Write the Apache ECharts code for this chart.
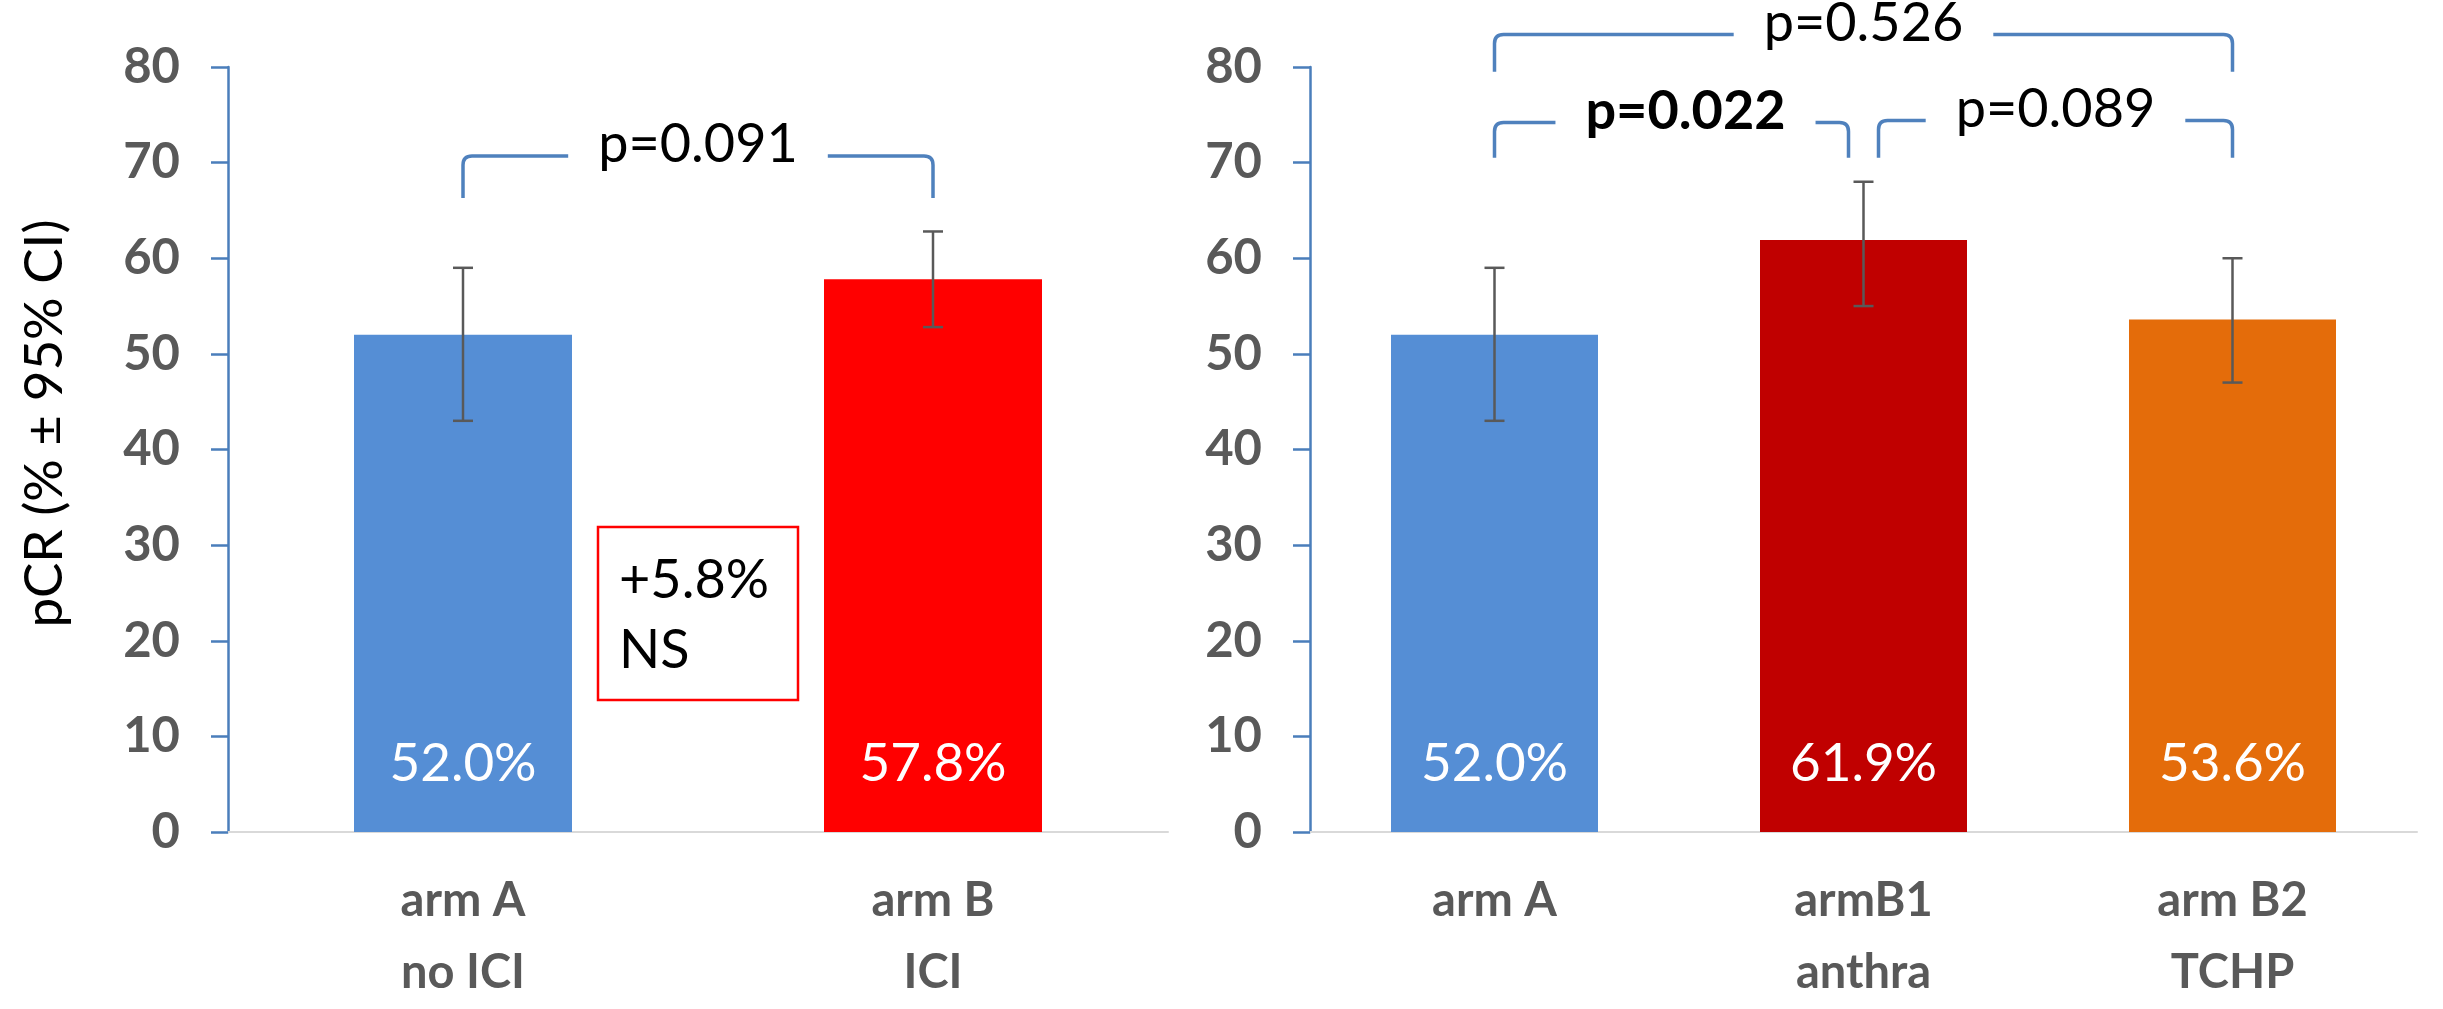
<!DOCTYPE html>
<html><head><meta charset="utf-8">
<script src="https://cdn.jsdelivr.net/npm/echarts@6/dist/echarts.min.js"></script>
<style>html,body{margin:0;padding:0;background:#fff;}#c{width:2443px;height:1009px;}</style>
</head><body><div id="c"></div>
<script>
// ---------- data ----------
const yTickValues = [0, 10, 20, 30, 40, 50, 60, 70, 80];
const yTitle = 'pCR (% ± 95% CI)';

const leftCategories = ['arm A\nno ICI', 'arm B\nICI'];
const leftValues = [52.0, 57.8];
const leftLow = [43.0, 52.8];
const leftHigh = [59.0, 62.8];

const rightCategories = ['arm A', 'armB1\nanthra', 'arm B2\nTCHP'];
const rightValues = [52.0, 61.9, 53.6];
const rightLow = [43.0, 55.0, 47.0];
const rightHigh = [59.0, 68.0, 60.0];

// brackets: [fromCategory, toCategory, topValue, bottomValue]
const leftBrackets = [[0, 1, 70.7, 66.3]];
const leftBracketLabels = ['p=0.091'];
const leftBracketBold = [false];
const rightBrackets = [[0, 2, 83.4, 79.5], [0, 1, 74.2, 70.5], [1, 2, 74.4, 70.5]];
const rightBracketLabels = ['p=0.526', 'p=0.022', 'p=0.089'];
const rightBracketBold = [false, true, false];

const diffLines = ['+5.8%', 'NS'];
const diffBoxRange = [31.9, 13.8]; // value range of the annotation box

// ---------- styles ----------
const FONT = 'Lato';
const leftColors = ['#558ED5', '#FF0000'];
const rightColors = ['#558ED5', '#C00000', '#E46C0A'];
const axisBlue = '#4A7EBB';
const bracketBlue = '#4F81BD';
const grey = '#595959';

function errorSeries(gridIdx, low, high) {
  return {
    type: 'custom', xAxisIndex: gridIdx, yAxisIndex: gridIdx, z: 5,
    data: low.map((l, i) => [i, l, high[i]]),
    encode: { x: 0, y: [1, 2] },
    renderItem: function (params, api) {
      const x = api.value(0);
      const pLo = api.coord([x, api.value(1)]);
      const pHi = api.coord([x, api.value(2)]);
      const hw = 10;
      const st = { stroke: grey, lineWidth: 2.5 };
      return {
        type: 'group', children: [
          { type: 'line', shape: { x1: pLo[0], y1: pLo[1], x2: pHi[0], y2: pHi[1] }, style: st },
          { type: 'line', shape: { x1: pLo[0] - hw, y1: pLo[1], x2: pLo[0] + hw, y2: pLo[1] }, style: st },
          { type: 'line', shape: { x1: pHi[0] - hw, y1: pHi[1], x2: pHi[0] + hw, y2: pHi[1] }, style: st }
        ]
      };
    }
  };
}

function bracketSeries(gridIdx, brackets, labels, bold, nCat) {
  return {
    type: 'custom', xAxisIndex: gridIdx, yAxisIndex: gridIdx, z: 6, clip: false,
    data: brackets,
    encode: { x: [0, 1], y: [2, 3] },
    renderItem: function (params, api) {
      const a = api.value(0), b = api.value(1), top = api.value(2), bot = api.value(3);
      const pA = api.coord([a, top]), pB = api.coord([b, top]), pBot = api.coord([a, bot]);
      const inner = 15;
      const x1 = pA[0] + ((a > 0 && a < nCat - 1) ? inner : 0);
      const x2 = pB[0] - ((b > 0 && b < nCat - 1) ? inner : 0);
      const yt = pA[1], yb = pBot[1], r = 9;
      const path = 'M' + x1 + ' ' + yb + ' L' + x1 + ' ' + (yt + r) + ' Q' + x1 + ' ' + yt + ' ' + (x1 + r) + ' ' + yt +
        ' L' + (x2 - r) + ' ' + yt + ' Q' + x2 + ' ' + yt + ' ' + x2 + ' ' + (yt + r) + ' L' + x2 + ' ' + yb;
      const i = params.dataIndex;
      return {
        type: 'group', children: [
          { type: 'path', shape: { pathData: path }, style: { stroke: bracketBlue, lineWidth: 3.5, fill: 'none' } },
          {
            type: 'text', x: (x1 + x2) / 2 + (bold[i] ? 14 : 0), y: yt - 11,
            style: {
              text: labels[i], fill: '#000', fontFamily: FONT, fontSize: 54,
              fontWeight: bold[i] ? 'bold' : 'normal', align: 'center', verticalAlign: 'middle',
              backgroundColor: '#fff', padding: [0, 30]
            }
          }
        ]
      };
    }
  };
}

function barSeries(gridIdx, values, colors, width) {
  return {
    type: 'bar', xAxisIndex: gridIdx, yAxisIndex: gridIdx, barWidth: width, z: 2,
    data: values.map((v, i) => ({ value: v, itemStyle: { color: colors[i] } })),
    label: {
      show: true, position: 'insideBottom', distance: 42, color: '#fff',
      fontFamily: FONT, fontSize: 53, formatter: p => p.value.toFixed(1) + '%'
    }
  };
}

function xAxis(gridIdx, cats) {
  return {
    type: 'category', gridIndex: gridIdx, data: cats,
    axisLine: { lineStyle: { color: '#D9D9D9', width: 2 } },
    axisTick: { show: false },
    axisLabel: { interval: 0, fontFamily: FONT, fontWeight: 'bold', fontSize: 47, color: grey, lineHeight: 72, margin: 33 }
  };
}
function yAxis(gridIdx) {
  return {
    type: 'value', gridIndex: gridIdx,
    min: yTickValues[0], max: yTickValues[yTickValues.length - 1], interval: yTickValues[1] - yTickValues[0],
    axisLine: { show: true, lineStyle: { color: axisBlue, width: 2.5 } },
    axisTick: { show: true, length: 17, lineStyle: { color: axisBlue, width: 2.5 } },
    splitLine: { show: false },
    axisLabel: { fontFamily: FONT, fontWeight: 'bold', fontSize: 49, color: grey, margin: 48 }
  };
}

const chart = echarts.init(document.getElementById('c'));
chart.setOption({
  animation: false,
  backgroundColor: '#fff',
  grid: [
    { left: 228, top: 67, width: 940, height: 776 },
    { left: 1310, top: 67, width: 1107, height: 776 }
  ],
  xAxis: [xAxis(0, leftCategories), xAxis(1, rightCategories)],
  yAxis: [yAxis(0), yAxis(1)],
  series: [
    barSeries(0, leftValues, leftColors, 218),
    barSeries(1, rightValues, rightColors, 207),
    errorSeries(0, leftLow, leftHigh),
    errorSeries(1, rightLow, rightHigh),
    bracketSeries(0, leftBrackets, leftBracketLabels, leftBracketBold, leftCategories.length),
    bracketSeries(1, rightBrackets, rightBracketLabels, rightBracketBold, rightCategories.length)
  ]
});

// annotation box + y title, positioned through the grid's scales
const p0 = chart.convertToPixel({ gridIndex: 0 }, [0, diffBoxRange[0]]);
const p1 = chart.convertToPixel({ gridIndex: 0 }, [1, diffBoxRange[1]]);
const midX = (p0[0] + p1[0]) / 2;
const boxW = 200;
const gTop = chart.convertToPixel({ gridIndex: 0 }, [0, yTickValues[yTickValues.length - 1]])[1];
const gBot = chart.convertToPixel({ gridIndex: 0 }, [0, yTickValues[0]])[1];
chart.setOption({
  graphic: [
    {
      type: 'rect', shape: { x: midX - boxW / 2, y: p0[1], width: boxW, height: p1[1] - p0[1] },
      style: { fill: '#fff', stroke: '#FF0000', lineWidth: 2.5 }, z: 10
    },
    {
      type: 'text', x: midX - boxW / 2 + 21, y: p0[1] + 19, z: 11,
      style: { text: diffLines.join('\n'), fontFamily: FONT, fontSize: 54, lineHeight: 70, fill: '#000', align: 'left', verticalAlign: 'top' }
    },
    {
      type: 'text', x: 45, y: (gTop + gBot) / 2 - 26, rotation: Math.PI / 2, z: 11,
      style: { text: yTitle, fontFamily: FONT, fontSize: 53, fill: '#000', align: 'center', verticalAlign: 'middle' }
    }
  ]
});
</script>
</body></html>
